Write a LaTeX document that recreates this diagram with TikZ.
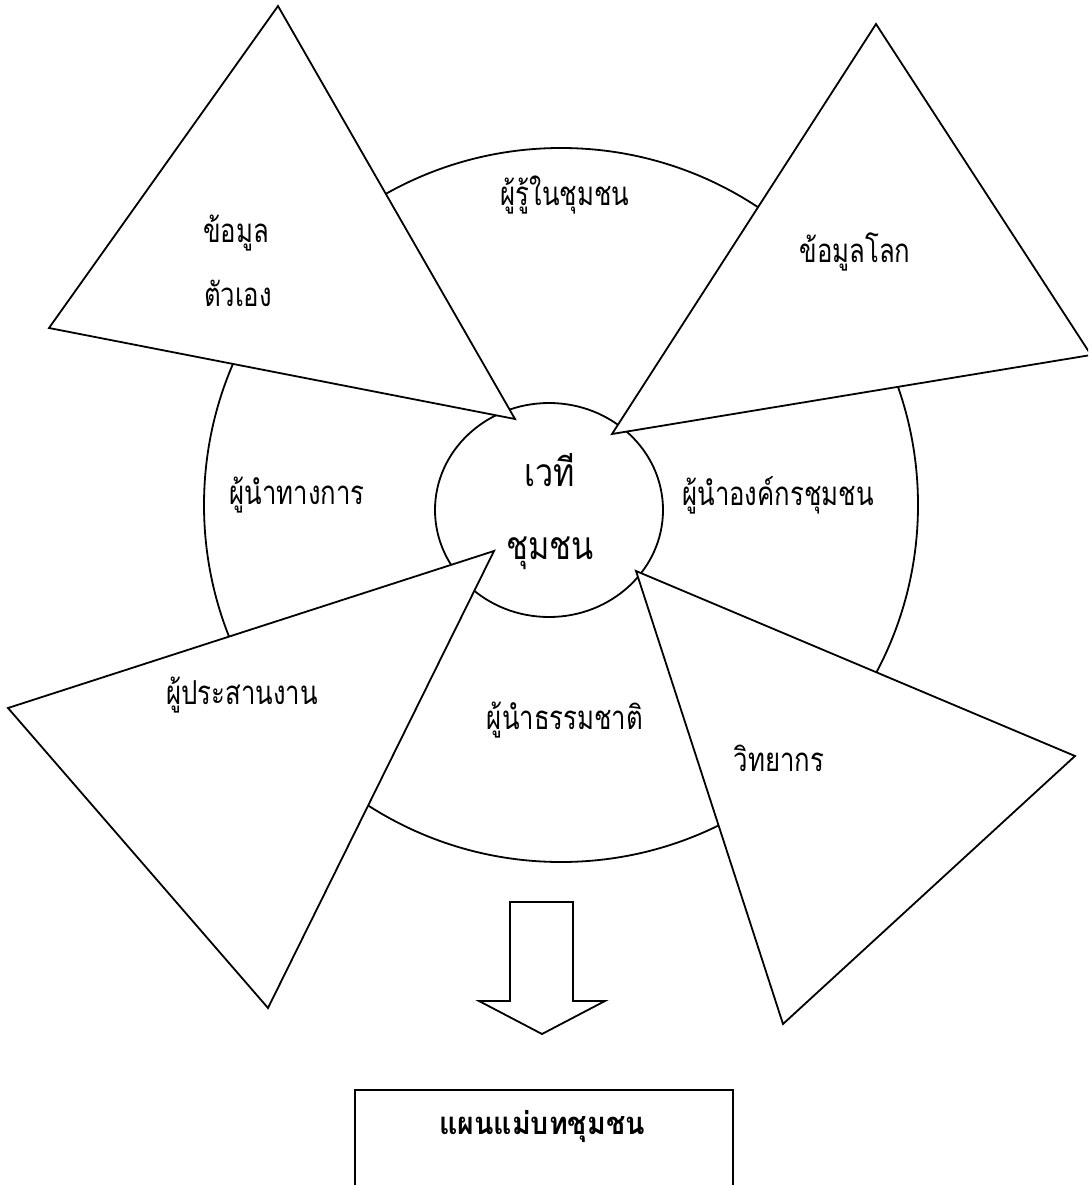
\documentclass[tikz,border=0pt]{standalone}
\usepackage{fontspec}
\newfontfamily\thaifont[Script=Thai]{Loma}
\newcommand{\thcond}[2]{\scalebox{#1}[1]{#2}}
\begin{document}
\begin{tikzpicture}[x=1pt,y=-1pt,
  shape line/.style={draw=black,line width=1.8pt,fill=white,line join=miter},
  lbl/.style={font=\thaifont\fontsize{33}{36}\selectfont,inner sep=0pt,anchor=center},
  biglbl/.style={font=\thaifont\fontsize{39}{42}\selectfont,inner sep=0pt,anchor=center}]
\useasboundingbox (0,0) rectangle (1088,1185);
\clip (0,0) rectangle (1088,1185);
% outer ring
\draw[shape line] (561,505) circle (357);
% inner circle
\draw[shape line] (549,510) ellipse (114 and 107);
% triangles
\draw[shape line] (278,6) -- (49,328) -- (515,419) -- cycle;
\draw[shape line] (876,24) -- (1091,355) -- (612,434) -- cycle;
\draw[shape line] (8,708) -- (494,551) -- (268,1008) -- cycle;
\draw[shape line] (636,571) -- (1075,756) -- (783,1024) -- cycle;
% arrow
\draw[shape line] (510,902) -- (573,902) -- (573,1001) -- (605,1001) -- (542,1034) -- (479,1001) -- (510,1001) -- cycle;
% box
\node[draw=black,line width=1.8pt,minimum width=378pt,minimum height=140pt,anchor=north west,inner sep=0pt] (plan) at (354,1089) {};
\node[lbl,font=\thaifont\bfseries\fontsize{31}{34}\selectfont] (plant) at (542,1127) {\thcond{0.92}{แผนแม่บทชุมชน}};
% labels
\node[lbl] (selfa) at (236,233) {\thcond{0.78}{ข้อมูล}};
\node[lbl] (selfb) at (238,293) {\thcond{0.78}{ตัวเอง}};
\node[lbl] (sage) at (565,195) {\thcond{0.78}{ผู้รู้ในชุมชน}};
\node[lbl] (world) at (855,252) {\thcond{0.78}{ข้อมูลโลก}};
\node[lbl] (official) at (297,495) {\thcond{0.78}{ผู้นำทางการ}};
\node[lbl] (org) at (778,495) {\thcond{0.78}{ผู้นำองค์กรชุมชน}};
\node[lbl] (coord) at (242,695) {\thcond{0.78}{ผู้ประสานงาน}};
\node[lbl] (natural) at (565,720) {\thcond{0.78}{ผู้นำธรรมชาติ}};
\node[lbl] (speaker) at (779,758) {\thcond{0.78}{วิทยากร}};
\node[biglbl] (forum1) at (550,470) {\thcond{0.83}{เวที}};
\node[biglbl] (forum2) at (550,553) {\thcond{0.83}{ชุมชน}};
\end{tikzpicture}
\end{document}
